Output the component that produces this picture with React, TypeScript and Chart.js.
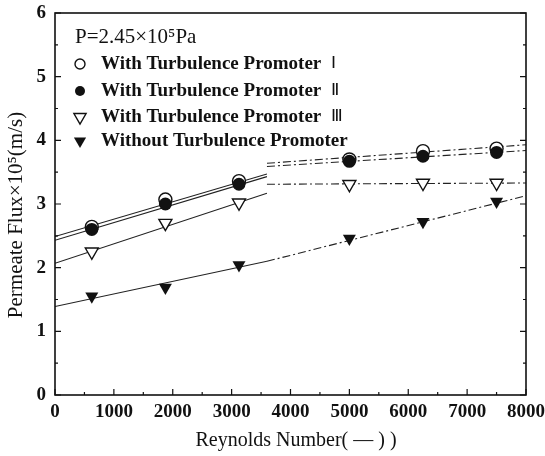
import { useEffect, useRef } from "react";
import { Chart, registerables } from "chart.js";

Chart.register(...registerables);

// Reynolds numbers of the measured runs
const reynolds = [625, 1875, 3125, 5000, 6250, 7500];

// Permeate flux (×10⁵ m/s) for each configuration
const fluxPromoterI = [2.64, 3.07, 3.36, 3.7, 3.83, 3.87];
const fluxPromoterII = [2.6, 3.0, 3.31, 3.67, 3.75, 3.81];
const fluxPromoterIII = [2.25, 2.7, 3.02, 3.31, 3.33, 3.33];
const fluxNoPromoter = [1.55, 1.69, 2.04, 2.46, 2.72, 3.04];

// Trend lines: a low-Re branch and a high-Re branch, given as [start, end] flux values
const fitLowRe = [0, 3600];
const fitHighRe = [3600, 8000];
const fitLowI = [2.49, 3.47];
const fitHighI = [3.64, 3.93];
const fitLowII = [2.43, 3.43];
const fitHighII = [3.59, 3.84];
const fitLowIII = [2.07, 3.17];
const fitHighIII = [3.31, 3.33];
const fitLowNone = [1.39, 2.1];
const fitHighNone = [2.1, 3.13];

// Axis ticks
const xTicks = [0, 1000, 2000, 3000, 4000, 5000, 6000, 7000, 8000];
const yTicks = [0, 1, 2, 3, 4, 5, 6];

// Text
const xTitle = "Reynolds Number( — ) )";
const yTitle = "Permeate Flux×10⁵(m/s)";
const pressureLabel = "P=2.45×10⁵Pa";
const seriesLabels = [
  "With Turbulence Promoter",
  "With Turbulence Promoter",
  "With Turbulence Promoter",
  "Without Turbulence Promoter",
];
const seriesNumerals = ["Ⅰ", "Ⅱ", "Ⅲ", ""];

const SERIF = "'Liberation Serif', 'Times New Roman', serif";
const INK = "#111";

const pts = (xs: number[], ys: number[]) => xs.map((x, i) => ({ x, y: ys[i] }));

function drawMarker(ctx: CanvasRenderingContext2D, kind: string, x: number, y: number, r: number) {
  ctx.save();
  ctx.lineWidth = 1.4;
  ctx.strokeStyle = INK;
  ctx.beginPath();
  if (kind === "circle" || kind === "disc") {
    ctx.arc(x, y, r, 0, Math.PI * 2);
  } else {
    const h = r * 0.87;
    ctx.moveTo(x - h, y - r * 0.5);
    ctx.lineTo(x + h, y - r * 0.5);
    ctx.lineTo(x, y + r);
    ctx.closePath();
  }
  if (kind === "disc" || kind === "tri") {
    ctx.fillStyle = INK;
    ctx.fill();
  } else {
    ctx.fillStyle = "#fff";
    ctx.fill();
    ctx.stroke();
  }
  ctx.restore();
}

// Frame, inward tick marks, axis titles and the in-plot legend
const decorations = {
  id: "decorations",
  afterDatasetsDraw(chart: any) {
    const { ctx, chartArea, scales } = chart;
    const { left, right, top, bottom } = chartArea;
    ctx.save();
    ctx.strokeStyle = INK;
    ctx.lineWidth = 1.6;
    ctx.strokeRect(left, top, right - left, bottom - top);

    ctx.lineWidth = 1.2;
    ctx.beginPath();
    for (let v = 0; v <= 6.001; v += 0.5) {
      const y = scales.y.getPixelForValue(v);
      const len = Math.abs(v - Math.round(v)) < 1e-6 ? 6 : 3;
      ctx.moveTo(left, y);
      ctx.lineTo(left + len, y);
      ctx.moveTo(right, y);
      ctx.lineTo(right - len, y);
    }
    for (let v = 0; v <= 8000; v += 500) {
      const x = scales.x.getPixelForValue(v);
      const len = v % 1000 === 0 ? 6 : 3;
      ctx.moveTo(x, bottom);
      ctx.lineTo(x, bottom - len);
    }
    ctx.stroke();

    ctx.fillStyle = INK;
    ctx.textBaseline = "middle";

    // axis titles
    ctx.textAlign = "center";
    ctx.font = `20px ${SERIF}`;
    ctx.fillText(xTitle, 296, 441);
    ctx.save();
    ctx.translate(16, 215);
    ctx.rotate(-Math.PI / 2);
    ctx.font = `21px ${SERIF}`;
    ctx.fillText(yTitle, 0, 0);
    ctx.restore();

    // legend
    ctx.textAlign = "left";
    ctx.font = `21px ${SERIF}`;
    ctx.fillText(pressureLabel, 75, 37);
    const kinds = ["circle", "disc", "open-tri", "tri"];
    const rowY = [64, 91, 117, 141];
    seriesLabels.forEach((label, i) => {
      drawMarker(ctx, kinds[i], 80, rowY[i], i < 2 ? 5 : 7);
      ctx.font = `bold 19px ${SERIF}`;
      ctx.fillStyle = INK;
      ctx.fillText(label, 101, rowY[i]);
      const w = ctx.measureText(label).width;
      if (seriesNumerals[i]) {
        ctx.font = `17px ${SERIF}`;
        ctx.fillText(seriesNumerals[i], 101 + w + 10, rowY[i]);
      }
    });
    ctx.restore();
  },
};

export default function App() {
  const canvasRef = useRef<HTMLCanvasElement | null>(null);

  useEffect(() => {
    const canvas = canvasRef.current;
    if (!canvas) return;

    const fitLine = (xs: number[], ys: number[], dashed: boolean) => ({
      data: pts(xs, ys),
      showLine: true,
      borderColor: "#222",
      borderWidth: 1.1,
      borderDash: dashed ? [8, 3, 2, 3] : [],
      pointRadius: 0,
      order: 10,
    });

    const markers = (ys: number[], style: string, filled: boolean, radius: number, rotation: number, order: number) => ({
      data: pts(reynolds, ys),
      showLine: false,
      pointStyle: style,
      pointRadius: radius,
      pointRotation: rotation,
      pointBackgroundColor: filled ? INK : "#fff",
      pointBorderColor: INK,
      pointBorderWidth: filled ? 0 : 1.4,
      order,
    });

    const tickFont = { family: SERIF, size: 19, weight: "bold" };

    const chart = new Chart(canvas, {
      type: "scatter",
      data: {
        datasets: [
          fitLine(fitLowRe, fitLowI, false),
          fitLine(fitHighRe, fitHighI, true),
          fitLine(fitLowRe, fitLowII, false),
          fitLine(fitHighRe, fitHighII, true),
          fitLine(fitLowRe, fitLowIII, false),
          fitLine(fitHighRe, fitHighIII, true),
          fitLine(fitLowRe, fitLowNone, false),
          fitLine(fitHighRe, fitHighNone, true),
          markers(fluxPromoterI, "circle", false, 6.5, 0, 4),
          markers(fluxPromoterII, "circle", true, 6.5, 0, 3),
          markers(fluxPromoterIII, "triangle", false, 7.5, 180, 2),
          markers(fluxNoPromoter, "triangle", true, 7.5, 180, 1),
        ] as any,
      },
      options: {
        animation: false,
        responsive: true,
        maintainAspectRatio: false,
        layout: { padding: { left: 0, top: 13, right: 19, bottom: 0 } },
        plugins: { legend: { display: false }, tooltip: { enabled: false } },
        scales: {
          x: {
            type: "linear",
            min: 0,
            max: 8000,
            afterBuildTicks: (s: any) => {
              s.ticks = xTicks.map((value) => ({ value }));
            },
            afterFit: (s: any) => {
              s.height = 61;
              s.paddingLeft = 0;
              s.paddingRight = 0;
            },
            grid: { display: false, drawTicks: false },
            border: { display: false },
            ticks: { padding: 6, color: INK, font: tickFont, callback: (v: any) => String(v) },
            title: { display: false },
          },
          y: {
            type: "linear",
            min: 0,
            max: 6,
            afterBuildTicks: (s: any) => {
              s.ticks = yTicks.map((value) => ({ value }));
            },
            afterFit: (s: any) => {
              s.width = 55;
              s.paddingTop = 0;
              s.paddingBottom = 0;
            },
            grid: { display: false, drawTicks: false },
            border: { display: false },
            ticks: { padding: 9, color: INK, font: tickFont, callback: (v: any) => String(v) },
            title: { display: false },
          },
        },
      } as any,
      plugins: [decorations],
    });

    return () => chart.destroy();
  }, []);

  return (
    <div style={{ position: "fixed", left: 0, top: 0, width: 545, height: 456, background: "#fff" }}>
      <canvas ref={canvasRef} />
    </div>
  );
}
